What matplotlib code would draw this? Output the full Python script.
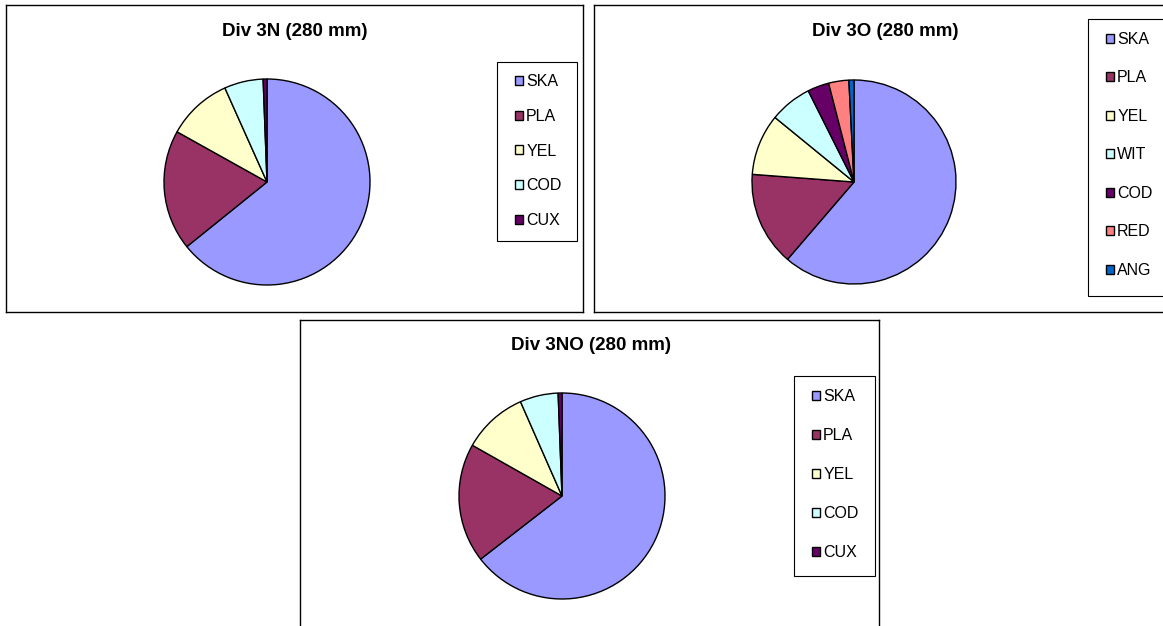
import matplotlib
matplotlib.use('Agg')
import matplotlib.pyplot as plt
from matplotlib.patches import Rectangle

plt.rcParams['font.family'] = ['Liberation Sans', 'DejaVu Sans']

W, H = 1163, 626

# shares of the catch (percent)
labels_3n = ['SKA', 'PLA', 'YEL', 'COD', 'CUX']
share_3n = [64.2, 18.9, 10.2, 6.1, 0.6]
colors_3n = ['#9999FF', '#993366', '#FFFFCC', '#CCFFFF', '#660066']

labels_3o = ['SKA', 'PLA', 'YEL', 'WIT', 'COD', 'RED', 'ANG']
share_3o = [61.3, 14.9, 9.7, 6.7, 3.4, 3.2, 0.8]
colors_3o = ['#9999FF', '#993366', '#FFFFCC', '#CCFFFF', '#660066', '#FF8080', '#0066CC']

labels_3no = ['SKA', 'PLA', 'YEL', 'COD', 'CUX']
share_3no = [64.5, 18.7, 10.2, 6.0, 0.6]
colors_3no = ['#9999FF', '#993366', '#FFFFCC', '#CCFFFF', '#660066']

titles = ['Div 3N (280 mm)', 'Div 3O (280 mm)', 'Div 3NO (280 mm)']


def frac(x0, y0, x1, y1):
    # pixel box (top-left origin) -> figure fraction rect
    return [x0 / W, 1 - y1 / H, (x1 - x0) / W, (y1 - y0) / H]


# layout in pixels: chart box, title centre, pie centre + radius,
# legend box, legend first-key position, row spacing
panels = [
    dict(box=(6, 5, 583, 312), title=(295, 31), pie=(267, 182, 103),
         leg=(497, 62, 577, 241), key=(515, 80), spacing=1.24,
         labels=labels_3n, vals=share_3n, colors=colors_3n),
    dict(box=(594, 5, 1176, 312), title=(885, 31), pie=(854, 182, 102),
         leg=(1088, 19, 1180, 296), key=(1106, 38), spacing=1.47,
         labels=labels_3o, vals=share_3o, colors=colors_3o),
    dict(box=(300, 320, 879, 640), title=(591, 345), pie=(562, 496, 103),
         leg=(794, 376, 875, 576), key=(812, 395), spacing=1.50,
         labels=labels_3no, vals=share_3no, colors=colors_3no),
]

fig = plt.figure(figsize=(W / 100, H / 100), dpi=100)

for p, title in zip(panels, titles):
    frame = fig.add_axes(frac(*p['box']))
    frame.set_xticks([])
    frame.set_yticks([])
    for s in frame.spines.values():
        s.set_linewidth(1.0)
        s.set_color('black')

    fig.text(p['title'][0] / W, 1 - p['title'][1] / H, title,
             ha='center', va='center', fontsize=13.5, fontweight='bold')

    cx, cy, r = p['pie']
    m = 1.05
    ax = fig.add_axes(frac(cx - r * m, cy - r * m, cx + r * m, cy + r * m))
    wedges, _ = ax.pie(p['vals'], colors=p['colors'], startangle=90,
                       counterclock=False,
                       wedgeprops=dict(edgecolor='black', linewidth=1.0))
    ax.set_xlim(-m, m)
    ax.set_ylim(-m, m)
    ax.axis('off')

    lx0, ly0, lx1, ly1 = p['leg']
    fig.add_artist(Rectangle((lx0 / W, 1 - ly1 / H), (lx1 - lx0) / W,
                             (ly1 - ly0) / H, transform=fig.transFigure,
                             facecolor='white', edgecolor='black', lw=0.8))
    kx, ky = p['key']
    fig.legend(wedges, p['labels'], loc='upper left',
               bbox_to_anchor=(kx / W, 1 - (ky - 6) / H),
               frameon=False, borderpad=0, borderaxespad=0,
               handlelength=0.5, handleheight=0.5, handletextpad=0.2,
               labelspacing=p['spacing'], fontsize=11.5)

fig.savefig('out.png', dpi=100)
